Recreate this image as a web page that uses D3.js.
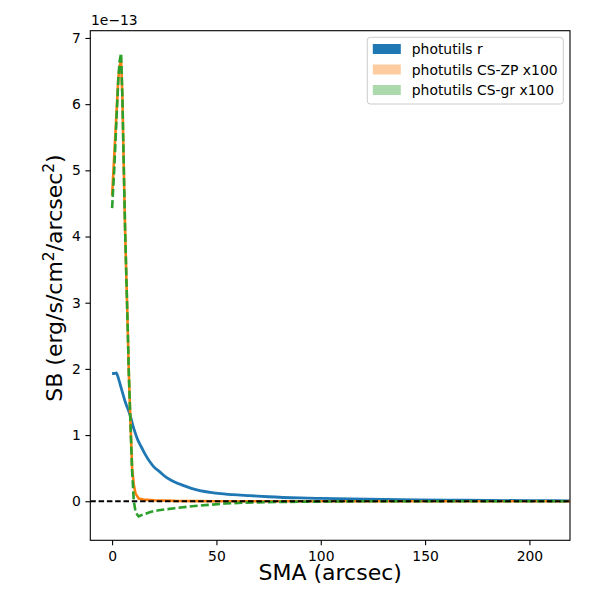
<!DOCTYPE html>
<html>
<head>
<meta charset="utf-8">
<script src="https://cdn.jsdelivr.net/npm/d3@7"></script>
<style>
  body { margin: 0; background: #fff; }
  text { font-family: "DejaVu Sans", sans-serif; }
</style>
</head>
<body>
<div class="chart"></div>
<script>
/* values in units of 1e-13 erg/s/cm^2/arcsec^2 */
const smaR = [0, 1, 2, 3, 4, 5, 6, 7, 8, 9, 10, 11, 12, 13, 14, 16, 18, 20, 23, 26, 30, 34, 38, 42, 47, 52, 60, 66, 75, 90, 100, 114, 138, 160, 180, 200, 222];
const sbR = [1.93, 1.93, 1.94, 1.86, 1.75, 1.64, 1.53, 1.44, 1.36, 1.26, 1.14, 1.04, 0.95, 0.88, 0.82, 0.70, 0.60, 0.52, 0.44, 0.36, 0.29, 0.24, 0.195, 0.16, 0.135, 0.115, 0.095, 0.085, 0.068, 0.05, 0.043, 0.035, 0.025, 0.018, 0.013, 0.009, 0.007];

const smaZP = [0, 1, 2, 3, 3.6, 4.3, 4.94, 5.56, 6.23, 6.86, 7.5, 8.0, 8.77, 9.6, 10.4, 11.2, 12.75, 15, 20, 30, 50, 80, 120, 160, 222];
const sbZP = [4.62, 5.2, 5.8, 6.4, 6.58, 6.65, 6.1, 5.1, 4.1, 3.35, 2.6, 1.95, 1.22, 0.5, 0.25, 0.12, 0.04, 0.025, 0.015, 0.005, 0.0, 0.0, 0.0, 0.0, 0.0];

const smaGR = [0, 1, 2, 3, 3.6, 4.3, 4.94, 5.56, 6.23, 6.86, 7.5, 8.0, 8.77, 9.6, 10.4, 11.2, 12.0, 12.75, 14, 16, 18, 20, 22.3, 30, 38.3, 46, 54.3, 64, 80, 100, 120, 160, 222];
const sbGR = [4.43, 5.0, 5.7, 6.4, 6.65, 6.77, 6.1, 5.1, 4.1, 3.35, 2.6, 1.95, 1.2, 0.45, 0.0, -0.15, -0.2, -0.23, -0.21, -0.19, -0.165, -0.15, -0.136, -0.105, -0.076, -0.055, -0.035, -0.02, -0.01, -0.005, 0.0, 0.0, 0.0];

const xTicks = [0, 50, 100, 150, 200];
const yTicks = [0, 1, 2, 3, 4, 5, 6, 7];
const legendLabels = ["photutils r", "photutils CS-ZP x100", "photutils CS-gr x100"];

const width = 600, height = 600;
const margin = { top: 30.7, right: 30, bottom: 59.7, left: 90.3 };
const innerW = width - margin.left - margin.right;
const innerH = height - margin.top - margin.bottom;

const svg = d3.select(".chart").append("svg")
    .attr("width", width).attr("height", height);

const g = svg.append("g").attr("transform", `translate(${margin.left},${margin.top})`);

const xScale = d3.scaleLinear().domain([-10.45, 219.45]).range([0, innerW]);
const yScale = d3.scaleLinear().domain([-0.59, 7.11]).range([innerH, 0]);

g.append("clipPath").attr("id", "clip")
    .append("rect").attr("width", innerW).attr("height", innerH);

const lineGen = d3.line().x(d => xScale(d[0])).y(d => yScale(d[1]));
const smoothGen = d3.line().curve(d3.curveMonotoneX).x(d => xScale(d[0])).y(d => yScale(d[1]));
const plot = g.append("g").attr("clip-path", "url(#clip)");

/* profiles */
plot.append("path").datum(d3.zip(smaR, sbR))
    .attr("d", smoothGen).attr("fill", "none")
    .attr("stroke", "#1f77b4").attr("stroke-width", 2.8).attr("stroke-linejoin", "round");
plot.append("path").datum(d3.zip(smaZP, sbZP))
    .attr("d", lineGen).attr("fill", "none")
    .attr("stroke", "#ff7f0e").attr("stroke-width", 2.6).attr("stroke-linejoin", "round");
plot.append("path").datum(d3.zip(smaGR, sbGR))
    .attr("d", lineGen).attr("fill", "none")
    .attr("stroke", "#2ca02c").attr("stroke-width", 2.6)
    .attr("stroke-dasharray", "8,3.2");

/* zero line */
plot.append("line")
    .attr("x1", 0).attr("x2", innerW)
    .attr("y1", yScale(0)).attr("y2", yScale(0))
    .attr("stroke", "#000").attr("stroke-width", 2).attr("stroke-dasharray", "5.5,2.8");

/* axes */
const xAxis = d3.axisBottom(xScale).tickValues(xTicks).tickSizeOuter(0).tickSize(4.9).tickPadding(5.5);
const yAxis = d3.axisLeft(yScale).tickValues(yTicks).tickSizeOuter(0).tickSize(4.9).tickPadding(4.5);

const xg = g.append("g").attr("transform", `translate(0,${innerH})`).call(xAxis);
const yg = g.append("g").call(yAxis);
[xg, yg].forEach(a => {
    a.select(".domain").remove();
    a.selectAll("line").attr("stroke", "#000").attr("stroke-width", 1.1);
    a.selectAll("text").attr("font-size", "13.9px").attr("fill", "#000")
        .style("font-family", "DejaVu Sans, sans-serif");
});

g.append("rect").attr("width", innerW).attr("height", innerH)
    .attr("fill", "none").attr("stroke", "#000").attr("stroke-width", 1.1);

/* offset text */
svg.append("text").attr("x", 91).attr("y", 25)
    .attr("font-size", "13.9px").text("1e\u221213");

/* labels */
svg.append("text")
    .attr("x", margin.left + innerW / 2).attr("y", 580)
    .attr("text-anchor", "middle").attr("font-size", "22px")
    .text("SMA (arcsec)");

const yl = svg.append("text")
    .attr("transform", "translate(61.5,278) rotate(-90)")
    .attr("text-anchor", "middle").attr("font-size", "22px");
yl.append("tspan").text("SB (erg/s/cm");
yl.append("tspan").attr("dy", -8).attr("font-size", "15.4px").text("2");
yl.append("tspan").attr("dy", 8).text("/arcsec");
yl.append("tspan").attr("dy", -8).attr("font-size", "15.4px").text("2");
yl.append("tspan").attr("dy", 8).text(")");

/* legend */
const legend = svg.append("g").attr("transform", "translate(367.3,37.3)");
legend.append("rect").attr("width", 196).attr("height", 66.7)
    .attr("rx", 3).attr("fill", "#fff").attr("fill-opacity", 0.8)
    .attr("stroke", "#cccccc").attr("stroke-width", 1);

const patchFill = ["#1f77b4", "#ff7f0e", "#2ca02c"];
const patchAlpha = [1, 0.4, 0.4];
const rows = legend.selectAll(".row").data(legendLabels).join("g")
    .attr("class", "row")
    .attr("transform", (d, i) => `translate(0,${11.7 + i * 20.5})`);
rows.append("rect").attr("x", 5.5).attr("y", -5).attr("width", 28).attr("height", 10)
    .attr("fill", (d, i) => patchFill[i]).attr("fill-opacity", (d, i) => patchAlpha[i]);
rows.append("text").attr("x", 44.5).attr("dy", "0.36em")
    .attr("font-size", "13.9px").text(d => d);
</script>
</body>
</html>
